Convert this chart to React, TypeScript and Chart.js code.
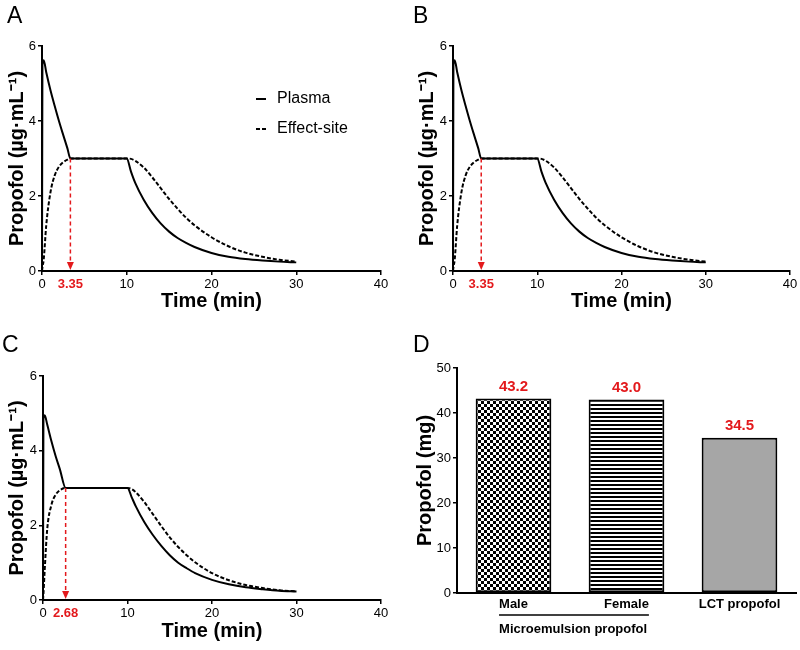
import React, { useEffect, useRef } from "react";
import { Chart, registerables } from "chart.js";

Chart.register(...registerables);

const FONT = "'Liberation Sans', Arial, Helvetica, sans-serif";
const RED = "#e3191c";

// ---------- shared axis values ----------
const timeTicks = [0, 10, 20, 30, 40];
const concTicks = [0, 2, 4, 6];
const doseTicks = [0, 10, 20, 30, 40, 50];
const targetConc = 3;

// ---------- Panel A ----------
const timeA = [0, 0.05, 0.2, 0.5, 1, 1.5, 2, 2.5, 3, 3.35, 5, 7, 10, 10.5, 11, 12, 13, 14, 15, 16, 17, 18, 20, 22, 24, 26, 28, 30];
const plasmaA = [0, 5.5, 5.62, 5.3, 4.82, 4.4, 4.0, 3.63, 3.27, 3.0, 3.0, 3.0, 3.0, 2.65, 2.35, 1.9, 1.55, 1.27, 1.05, 0.88, 0.75, 0.64, 0.48, 0.38, 0.32, 0.28, 0.25, 0.23];
const effectA = [0, 0.1, 0.3, 1.22, 2.1, 2.55, 2.78, 2.9, 2.97, 3.0, 3.0, 3.0, 3.0, 2.99, 2.94, 2.76, 2.5, 2.21, 1.92, 1.66, 1.42, 1.22, 0.9, 0.66, 0.49, 0.38, 0.3, 0.25];
const onsetA = 3.35;

// ---------- Panel B ----------
const timeB = [0, 0.05, 0.2, 0.5, 1, 1.5, 2, 2.5, 3, 3.35, 5, 7, 10, 10.5, 11, 12, 13, 14, 15, 16, 17, 18, 20, 22, 24, 26, 28, 30];
const plasmaB = [0, 5.5, 5.62, 5.3, 4.82, 4.4, 4.0, 3.63, 3.27, 3.0, 3.0, 3.0, 3.0, 2.65, 2.35, 1.9, 1.55, 1.27, 1.05, 0.88, 0.75, 0.64, 0.48, 0.38, 0.32, 0.28, 0.25, 0.23];
const effectB = [0, 0.1, 0.3, 1.22, 2.1, 2.55, 2.78, 2.9, 2.97, 3.0, 3.0, 3.0, 3.0, 2.99, 2.94, 2.76, 2.5, 2.21, 1.92, 1.66, 1.42, 1.22, 0.9, 0.66, 0.49, 0.38, 0.3, 0.25];
const onsetB = 3.35;

// ---------- Panel C ----------
const timeC = [0, 0.05, 0.2, 0.5, 1, 1.5, 2, 2.68, 5, 7, 10, 10.5, 11, 12, 13, 14, 15, 16, 17, 18, 20, 22, 24, 26, 28, 30];
const plasmaC = [0, 4.85, 4.95, 4.7, 4.25, 3.85, 3.5, 3.0, 3.0, 3.0, 3.0, 2.75, 2.5, 2.08, 1.74, 1.45, 1.2, 1.0, 0.85, 0.72, 0.54, 0.42, 0.34, 0.29, 0.25, 0.23];
const effectC = [0, 0.15, 0.8, 1.9, 2.55, 2.82, 2.94, 3.0, 3.0, 3.0, 3.0, 2.97, 2.88, 2.62, 2.3, 1.98, 1.68, 1.42, 1.2, 1.01, 0.72, 0.53, 0.4, 0.32, 0.26, 0.23];
const onsetC = 2.68;

// ---------- Panel D ----------
const doseGroups = ["Male", "Female", "LCT propofol"];
const doseValues = [43.2, 43.0, 34.5];
const doseLabels = ["43.2", "43.0", "34.5"];
const groupName = "Microemulsion propofol";

// ---------- plugins ----------
const panelLetter = {
  id: "panelLetter",
  afterDraw(chart: any, _a: any, opts: any) {
    if (!opts || !opts.text) return;
    const ctx = chart.ctx;
    ctx.save();
    ctx.font = `23px ${FONT}`;
    ctx.fillStyle = "#000";
    ctx.textAlign = "left";
    ctx.textBaseline = "alphabetic";
    ctx.fillText(opts.text, opts.x, opts.y);
    ctx.restore();
  },
};

const seriesKey = {
  id: "seriesKey",
  afterDraw(chart: any, _a: any, opts: any) {
    if (!opts || !opts.show) return;
    const ctx = chart.ctx;
    chart.data.datasets.forEach((ds: any, i: number) => {
      const y = opts.y + i * opts.gap;
      ctx.save();
      ctx.strokeStyle = ds.borderColor;
      ctx.lineWidth = ds.borderWidth;
      ctx.setLineDash(ds.borderDash || []);
      ctx.beginPath();
      ctx.moveTo(opts.x, y);
      ctx.lineTo(opts.x + opts.len, y);
      ctx.stroke();
      ctx.setLineDash([]);
      ctx.font = `16px ${FONT}`;
      ctx.fillStyle = "#000";
      ctx.textAlign = "left";
      ctx.textBaseline = "middle";
      ctx.fillText(ds.label, opts.x + opts.len + opts.pad, y);
      ctx.restore();
    });
  },
};

const onsetArrow = {
  id: "onsetArrow",
  afterDatasetsDraw(chart: any, _a: any, opts: any) {
    if (!opts || opts.time == null) return;
    const ctx = chart.ctx;
    const xs = chart.scales.x;
    const ys = chart.scales.y;
    const x = xs.getPixelForValue(opts.time);
    const yTop = ys.getPixelForValue(opts.level);
    const yBot = ys.getPixelForValue(0) - 1;
    const head = 8;
    ctx.save();
    ctx.strokeStyle = RED;
    ctx.lineWidth = 1.5;
    ctx.setLineDash([4, 3]);
    ctx.beginPath();
    ctx.moveTo(x, yTop);
    ctx.lineTo(x, yBot - head + 1);
    ctx.stroke();
    ctx.setLineDash([]);
    ctx.fillStyle = RED;
    ctx.beginPath();
    ctx.moveTo(x - 3.5, yBot - head);
    ctx.lineTo(x + 3.5, yBot - head);
    ctx.lineTo(x, yBot);
    ctx.closePath();
    ctx.fill();
    ctx.restore();
  },
};

const barValues = {
  id: "barValues",
  afterDatasetsDraw(chart: any, _a: any, opts: any) {
    if (!opts || !opts.labels) return;
    const ctx = chart.ctx;
    const meta = chart.getDatasetMeta(0);
    ctx.save();
    ctx.font = `bold 15px ${FONT}`;
    ctx.fillStyle = RED;
    ctx.textAlign = "center";
    ctx.textBaseline = "alphabetic";
    meta.data.forEach((bar: any, i: number) => {
      ctx.fillText(opts.labels[i], bar.x, bar.y - 8);
    });
    ctx.restore();
  },
};

const groupBracket = {
  id: "groupBracket",
  afterDraw(chart: any, _a: any, opts: any) {
    if (!opts || !opts.text) return;
    const ctx = chart.ctx;
    const xs = chart.scales.x;
    const labels = chart.data.labels;
    ctx.save();
    ctx.font = `bold 13px ${FONT}`;
    const x1 = xs.getPixelForValue(opts.from) - ctx.measureText(labels[opts.from]).width / 2;
    const x2 = xs.getPixelForValue(opts.to) + ctx.measureText(labels[opts.to]).width / 2;
    const y = chart.chartArea.bottom + 22;
    ctx.strokeStyle = "#000";
    ctx.lineWidth = 1.5;
    ctx.beginPath();
    ctx.moveTo(x1, y);
    ctx.lineTo(x2, y);
    ctx.stroke();
    ctx.fillStyle = "#000";
    ctx.textAlign = "left";
    ctx.textBaseline = "middle";
    ctx.fillText(opts.text, x1, y + 14);
    ctx.restore();
  },
};

// ---------- config builders ----------
type LineParams = {
  time: number[];
  plasma: number[];
  effect: number[];
  onset: number;
  letter: string;
  letterX: number;
  letterY: number;
  padTop: number;
  padRight: number;
  yAxisW: number;
  xAxisH: number;
  yTitlePad: number;
  showKey: boolean;
};

function lineConfig(p: LineParams): any {
  const isOnset = (c: any) => c.tick && Math.abs(c.tick.value - p.onset) < 1e-9;
  return {
    type: "line",
    data: {
      datasets: [
        {
          label: "Plasma",
          data: p.time.map((t, i) => ({ x: t, y: p.plasma[i] })),
          borderColor: "#000",
          borderWidth: 2,
          borderDash: [],
          pointRadius: 0,
          fill: false,
          cubicInterpolationMode: "monotone",
        },
        {
          label: "Effect-site",
          data: p.time.map((t, i) => ({ x: t, y: p.effect[i] })),
          borderColor: "#000",
          borderWidth: 2,
          borderDash: [4, 2],
          pointRadius: 0,
          fill: false,
          cubicInterpolationMode: "monotone",
        },
      ],
    },
    options: {
      responsive: false,
      animation: false,
      layout: { padding: { left: 0, top: p.padTop, right: p.padRight, bottom: 0 } },
      plugins: {
        legend: { display: false },
        tooltip: { enabled: false },
        title: { display: false },
        panelLetter: { text: p.letter, x: p.letterX, y: p.letterY },
        seriesKey: { show: p.showKey, x: 256, y: 99, gap: 30, len: 10, pad: 11 },
        onsetArrow: { time: p.onset, level: targetConc },
      },
      scales: {
        x: {
          type: "linear",
          min: 0,
          max: 40,
          afterBuildTicks: (s: any) => {
            s.ticks = [...timeTicks, p.onset].sort((a, b) => a - b).map((v) => ({ value: v }));
          },
          afterFit: (s: any) => {
            s.height = p.xAxisH;
          },
          ticks: {
            autoSkip: false,
            maxRotation: 0,
            padding: 2,
            color: (c: any) => (isOnset(c) ? RED : "#000"),
            font: (c: any) => ({ family: FONT, size: 13, weight: isOnset(c) ? "bold" : "normal" }),
            callback: (v: any) => (Math.abs(v - p.onset) < 1e-9 ? p.onset.toFixed(2) : String(v)),
          },
          grid: {
            display: true,
            drawOnChartArea: false,
            drawTicks: true,
            tickLength: 4,
            lineWidth: 1.5,
            color: (c: any) => (isOnset(c) ? "rgba(0,0,0,0)" : "#000"),
          },
          border: { display: true, color: "#000", width: 2 },
          title: {
            display: true,
            text: "Time (min)",
            color: "#000",
            font: { family: FONT, size: 20, weight: "bold" },
            padding: { top: 0, bottom: 7 },
          },
        },
        y: {
          type: "linear",
          min: 0,
          max: 6,
          afterBuildTicks: (s: any) => {
            s.ticks = concTicks.map((v) => ({ value: v }));
          },
          afterFit: (s: any) => {
            s.width = p.yAxisW;
          },
          ticks: {
            padding: 2,
            color: "#000",
            font: { family: FONT, size: 13 },
          },
          grid: {
            display: true,
            drawOnChartArea: false,
            drawTicks: true,
            tickLength: 4,
            lineWidth: 1.5,
            color: "#000",
          },
          border: { display: true, color: "#000", width: 2 },
          title: {
            display: true,
            text: "Propofol (µg·mL⁻¹)",
            color: "#000",
            font: { family: FONT, size: 20, weight: "bold" },
            padding: { top: p.yTitlePad, bottom: 0 },
          },
        },
      },
    },
    plugins: [panelLetter, seriesKey, onsetArrow],
  };
}

function makeChecker(): any {
  const c = document.createElement("canvas");
  c.width = 6;
  c.height = 6;
  const g = c.getContext("2d")!;
  g.fillStyle = "#fff";
  g.fillRect(0, 0, 6, 6);
  g.fillStyle = "#000";
  g.fillRect(0, 0, 3, 3);
  g.fillRect(3, 3, 3, 3);
  return g.createPattern(c, "repeat");
}

function makeStripes(): any {
  const c = document.createElement("canvas");
  c.width = 4;
  c.height = 4;
  const g = c.getContext("2d")!;
  g.fillStyle = "#fff";
  g.fillRect(0, 0, 4, 4);
  g.fillStyle = "#000";
  g.fillRect(0, 0, 4, 2);
  return g.createPattern(c, "repeat");
}

function barConfig(): any {
  return {
    type: "bar",
    data: {
      labels: doseGroups,
      datasets: [
        {
          data: doseValues,
          backgroundColor: [makeChecker(), makeStripes(), "#a6a6a6"],
          borderColor: "#000",
          borderWidth: 2,
          borderSkipped: false,
          barPercentage: 0.67,
          categoryPercentage: 1,
        },
      ],
    },
    options: {
      responsive: false,
      animation: false,
      layout: { padding: { left: 0, top: 48, right: 4, bottom: 0 } },
      plugins: {
        legend: { display: false },
        tooltip: { enabled: false },
        title: { display: false },
        panelLetter: { text: "D", x: 13, y: 32 },
        barValues: { labels: doseLabels },
        groupBracket: { text: groupName, from: 0, to: 1 },
      },
      scales: {
        x: {
          type: "category",
          afterFit: (s: any) => {
            s.height = 57;
          },
          ticks: {
            padding: 4,
            color: "#000",
            maxRotation: 0,
            autoSkip: false,
            font: { family: FONT, size: 13, weight: "bold" },
          },
          grid: { display: false, drawTicks: false },
          border: { display: true, color: "#000", width: 2 },
        },
        y: {
          type: "linear",
          min: 0,
          max: 50,
          afterBuildTicks: (s: any) => {
            s.ticks = doseTicks.map((v) => ({ value: v }));
          },
          afterFit: (s: any) => {
            s.width = 57;
          },
          ticks: { padding: 2, color: "#000", font: { family: FONT, size: 13 } },
          grid: {
            display: true,
            drawOnChartArea: false,
            drawTicks: true,
            tickLength: 4,
            lineWidth: 1.5,
            color: "#000",
          },
          border: { display: true, color: "#000", width: 2 },
          title: {
            display: true,
            text: "Propofol (mg)",
            color: "#000",
            font: { family: FONT, size: 20, weight: "bold" },
            padding: { top: 13, bottom: 0 },
          },
        },
      },
    },
    plugins: [panelLetter, barValues, groupBracket],
  };
}

function Panel({ build, left, top, width, height }: { build: () => any; left: number; top: number; width: number; height: number }) {
  const ref = useRef<HTMLCanvasElement>(null);
  useEffect(() => {
    const chart = new Chart(ref.current as HTMLCanvasElement, build());
    return () => chart.destroy();
  }, []);
  return (
    <canvas
      ref={ref}
      width={width}
      height={height}
      style={{ position: "absolute", left, top, width, height, display: "block" }}
    />
  );
}

export default function App() {
  return (
    <div style={{ position: "fixed", left: 0, top: 0, width: 800, height: 650, background: "#fff" }}>
      <Panel
        left={0}
        top={0}
        width={400}
        height={320}
        build={() =>
          lineConfig({
            time: timeA, plasma: plasmaA, effect: effectA, onset: onsetA,
            letter: "A", letterX: 7, letterY: 23,
            padTop: 46, padRight: 19, yAxisW: 42, xAxisH: 49, yTitlePad: 5, showKey: true,
          })
        }
      />
      <Panel
        left={400}
        top={0}
        width={400}
        height={320}
        build={() =>
          lineConfig({
            time: timeB, plasma: plasmaB, effect: effectB, onset: onsetB,
            letter: "B", letterX: 13, letterY: 23,
            padTop: 46, padRight: 10, yAxisW: 53, xAxisH: 49, yTitlePad: 15, showKey: false,
          })
        }
      />
      <Panel
        left={0}
        top={320}
        width={400}
        height={330}
        build={() =>
          lineConfig({
            time: timeC, plasma: plasmaC, effect: effectC, onset: onsetC,
            letter: "C", letterX: 2, letterY: 32,
            padTop: 56, padRight: 19, yAxisW: 43, xAxisH: 50, yTitlePad: 5, showKey: false,
          })
        }
      />
      <Panel left={400} top={320} width={400} height={330} build={barConfig} />
    </div>
  );
}
